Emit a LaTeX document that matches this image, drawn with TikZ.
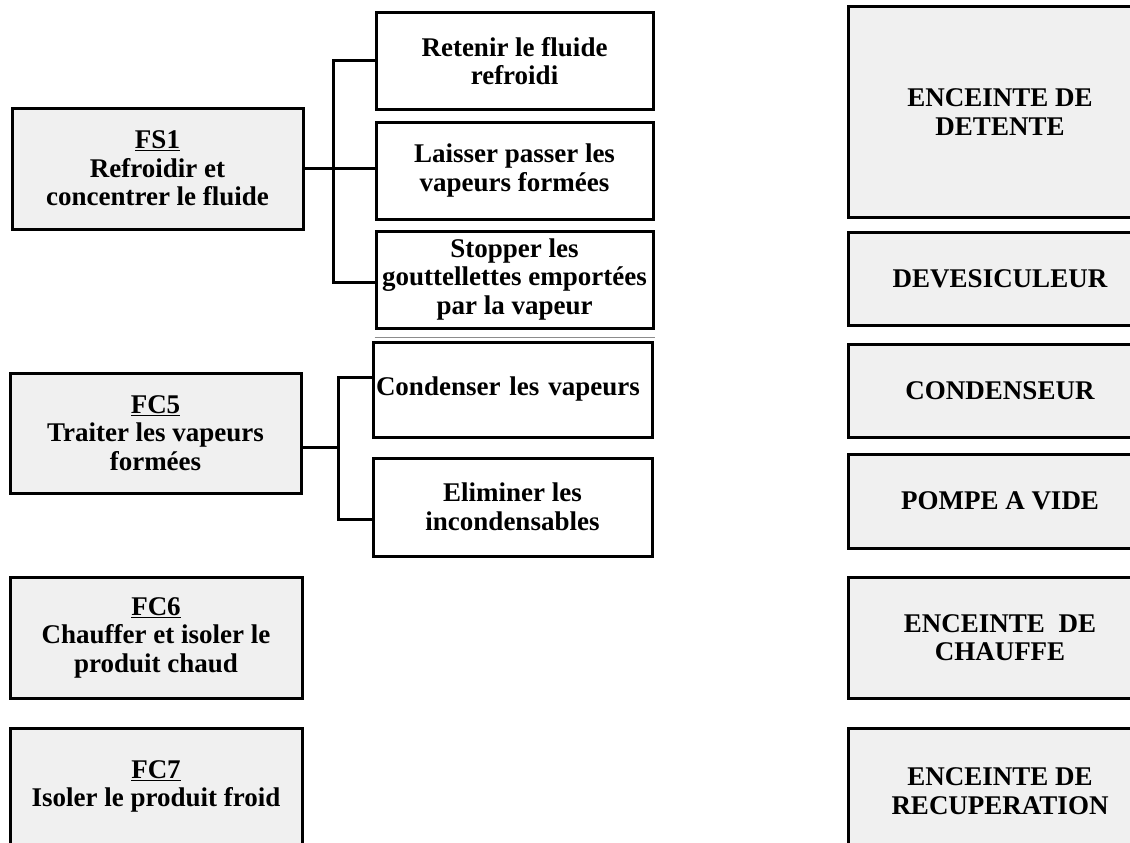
\documentclass[tikz,border=0pt]{standalone}
\usepackage{fontspec}
\setmainfont{Liberation Serif}
\usetikzlibrary{calc}
\definecolor{boxgray}{HTML}{F0F0F0}
\tikzset{
  base/.style={draw=black, line width=3pt, rectangle, inner sep=3pt, align=center,
    font=\fontsize{27}{28.5}\selectfont\bfseries, line join=miter},
  lbox/.style={base, fill=boxgray},
  mbox/.style={base, fill=white, minimum width=277pt},
  rbox/.style={base, fill=boxgray, minimum width=304pt},
  conn/.style={draw=black, line width=3pt, line join=miter}
}
\begin{document}
\begin{tikzpicture}[x=1pt,y=-1pt]
\useasboundingbox (0,0) rectangle (1130,843);
\clip (0,0) rectangle (1130,843);
\fill[white] (0,0) rectangle (1130,843);

% left column
\node[lbox, minimum width=291pt, minimum height=121pt] (fs1) at (157.5,168.5)
  {\underline{FS1}\\Refroidir et\\concentrer le fluide};
\node[lbox, minimum width=291pt, minimum height=120pt] (fc5) at (155.5,433)
  {\underline{FC5}\\Traiter les vapeurs\\formées};
\node[lbox, minimum width=292pt, minimum height=121pt] (fc6) at (156,637.5)
  {\underline{FC6}\\Chauffer et isoler le\\produit chaud};
\node[lbox, minimum width=292pt, minimum height=117pt] (fc7) at (156,786.5)
  {\underline{FC7}\\Isoler le produit froid};

% middle column
\node[mbox, minimum height=96pt] (ret) at (514.5,61) {Retenir le fluide\\refroidi};
\node[mbox, minimum height=97pt] (lai) at (514.5,170.5) {Laisser passer les\\vapeurs formées};
\node[mbox, minimum height=97pt] (sto) at (514.5,279.5) {Stopper les\\gouttellettes emportées\\par la vapeur};
\node[base, fill=white, minimum width=279pt, minimum height=95pt, text width=273pt, align=left] (con) at (512.5,389.5) {Condenser les vapeurs};
\node[base, fill=white, minimum width=279pt, minimum height=98pt] (eli) at (512.5,507) {Eliminer les\\incondensables};

% faint line between the blocks
\draw[black!45, line width=1.2pt] ($(sto.south west)+(0,8)$) -- ($(sto.south east)+(0,8)$);

% right column
\node[rbox, minimum height=210pt] (det) at (1000,112) {ENCEINTE DE\\DETENTE};
\node[rbox, minimum height=93pt] (dev) at (1000,278.5) {DEVESICULEUR};
\node[rbox, minimum height=93pt] (cds) at (1000,390.5) {CONDENSEUR};
\node[rbox, minimum height=94pt] (pom) at (1000,501) {POMPE A VIDE};
\node[rbox, minimum height=121pt] (chf) at (1000,637.5) {ENCEINTE~ DE\\CHAUFFE};
\node[rbox, minimum height=126pt] (rec) at (1000,791) {ENCEINTE DE\\RECUPERATION};

% FS1 connectors
\coordinate (j1) at (333,169);
\coordinate (s3) at ($(sto.west)+(0,2.5)$);
\draw[conn] (fs1.east) -- (fs1.east -| lai.west);
\draw[conn] (ret.west) -- (ret.west -| j1) -- (s3 -| j1) -- (s3);

% FC5 connectors
\coordinate (c5) at ($(fc5.east)+(0,14)$);
\coordinate (j5) at (338,447);
\coordinate (k1) at ($(con.west)+(0,-12.5)$);
\coordinate (k2) at ($(eli.west)+(0,12)$);
\draw[conn] (c5) -- (j5);
\draw[conn] (k1) -- (k1 -| j5) -- (k2 -| j5) -- (k2);
\end{tikzpicture}
\end{document}
